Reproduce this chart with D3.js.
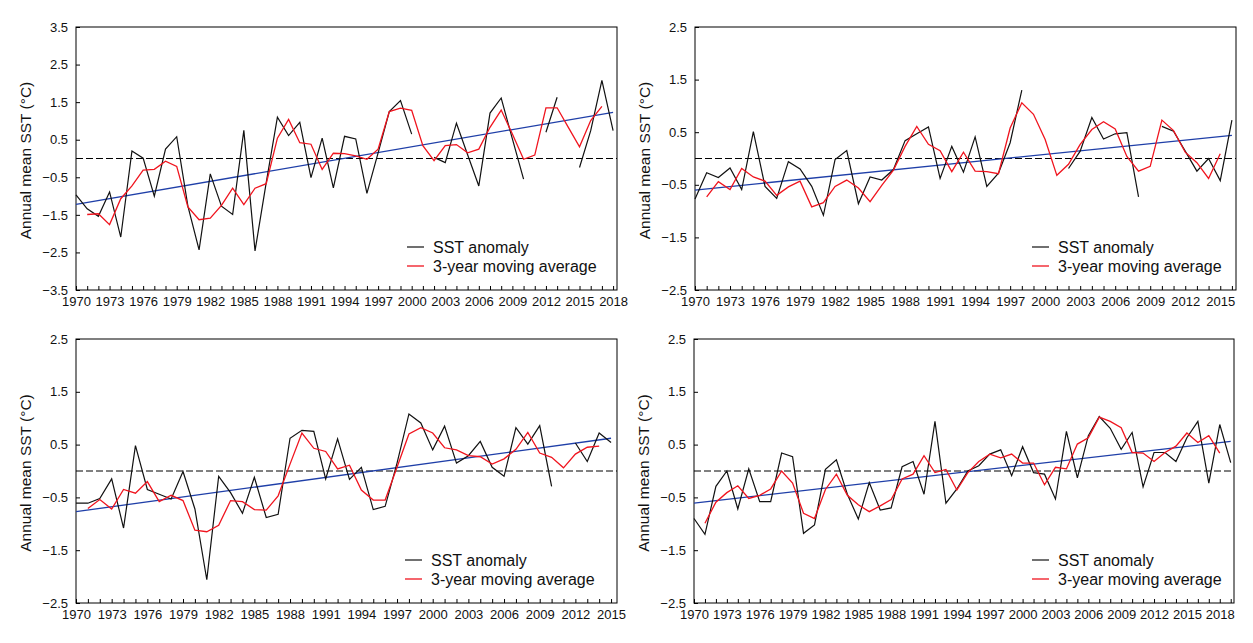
<!DOCTYPE html>
<meta charset="utf-8">
<script src="https://d3js.org/d3.v7.min.js"></script>
<style>
  body { margin: 0; background: #fff; }
  svg text { font-family: "Liberation Sans", Arial, sans-serif; fill: #111; }
</style>
<div id="chart"></div>
<script>

// ---- data, one value per year starting 1970 ----
var sst1 = [-0.97,-1.34,-1.54,-0.89,-2.09,0.20,0.01,-1.00,0.25,0.58,
  -1.27,-2.43,-0.41,-1.27,-1.49,0.75,-2.46,-0.64,1.10,0.61,
  0.96,-0.51,0.54,-0.78,0.59,0.52,-0.93,0.15,1.25,1.54,
  0.65,null,0.03,-0.11,0.94,0.10,-0.73,1.21,1.61,0.52,
  -0.55,null,0.70,1.63,null,-0.24,0.74,2.08,0.74];
var avg1 = [null,-1.49,-1.47,-1.76,-1.07,-0.73,-0.31,-0.29,-0.07,-0.21,
  -1.29,-1.63,-1.59,-1.25,-0.79,-1.23,-0.79,-0.67,0.54,1.04,
  0.42,0.38,-0.29,0.14,0.13,0.07,-0.02,0.25,1.25,1.34,
  1.28,0.34,-0.06,0.34,0.37,0.15,0.25,0.83,1.29,0.65,
  -0.02,0.09,1.35,1.35,0.83,0.31,1.01,1.39,null];

var sst2 = [-0.77,-0.27,-0.36,-0.18,-0.59,0.51,-0.53,-0.76,-0.06,-0.20,
  -0.53,-1.08,-0.02,0.15,-0.86,-0.35,-0.41,-0.21,0.34,0.47,
  0.60,-0.38,0.23,-0.26,0.41,-0.53,-0.28,0.30,1.30,null,
  null,null,-0.19,0.14,0.78,0.37,0.47,0.49,-0.73,null,
  0.61,0.52,0.14,-0.24,0.00,-0.42,0.73];
var avg2 = [null,-0.73,-0.44,-0.59,-0.19,-0.35,-0.43,-0.70,-0.54,-0.43,
  -0.92,-0.84,-0.53,-0.41,-0.56,-0.82,-0.51,-0.22,0.23,0.61,
  0.27,0.15,-0.25,0.12,-0.24,-0.25,-0.29,0.58,1.06,0.84,
  0.36,-0.32,-0.11,0.27,0.55,0.70,0.56,0.04,-0.24,-0.15,
  0.73,0.53,0.12,-0.08,-0.38,0.09,null];

var sst3 = [-0.61,-0.61,-0.52,-0.15,-1.08,0.48,-0.35,-0.44,-0.53,-0.01,
  -0.72,-2.06,-0.10,-0.41,-0.80,-0.12,-0.88,-0.82,0.62,0.77,
  0.75,-0.15,0.61,-0.16,0.07,-0.73,-0.67,0.15,1.08,0.91,
  0.40,0.85,0.15,0.29,0.56,0.07,-0.10,0.82,0.51,0.86,
  -0.29,null,0.53,0.18,0.72,0.54];
var avg3 = [null,-0.71,-0.54,-0.72,-0.35,-0.42,-0.20,-0.58,-0.46,-0.56,
  -1.12,-1.15,-1.03,-0.56,-0.58,-0.73,-0.74,-0.47,0.13,0.72,
  0.43,0.37,0.04,0.11,-0.36,-0.55,-0.55,0.07,0.70,0.82,
  0.72,0.44,0.40,0.29,0.27,0.13,0.23,0.41,0.73,0.34,
  0.26,0.06,0.32,0.45,0.47,null];

var sst4 = [-0.90,-1.20,-0.29,0.00,-0.72,0.04,-0.58,-0.58,0.34,0.27,
  -1.18,-1.02,0.03,0.21,-0.44,-0.91,-0.22,-0.74,-0.70,0.08,
  0.18,-0.44,0.94,-0.61,-0.34,0.00,0.10,0.32,0.40,-0.09,
  0.46,-0.03,-0.06,-0.53,0.75,-0.13,0.67,1.03,0.81,0.41,
  0.73,-0.30,0.35,0.35,0.18,0.63,0.94,-0.23,0.88,0.16];
var avg4 = [null,-0.99,-0.59,-0.41,-0.28,-0.52,-0.46,-0.34,0.00,-0.23,
  -0.80,-0.90,-0.35,-0.06,-0.46,-0.64,-0.77,-0.66,-0.54,-0.15,
  -0.06,0.29,-0.03,0.03,-0.36,-0.03,0.18,0.32,0.25,0.32,
  0.15,0.15,-0.26,0.07,0.04,0.51,0.63,1.02,0.94,0.82,
  0.35,0.34,0.18,0.35,0.47,0.72,0.54,0.67,0.34,null];

// linear trend end points [value at first year, value at last year]
var trend1 = [-1.22, 1.23];
var trend2 = [-0.60, 0.44];
var trend3 = [-0.77, 0.62];
var trend4 = [-0.61, 0.56];

var yTicksWide = [3.5, 2.5, 1.5, 0.5, -0.5, -1.5, -2.5, -3.5];
var yTicks = [2.5, 1.5, 0.5, -0.5, -1.5, -2.5];

var panels = [
  {sst: sst1, avg: avg1, trend: trend1, yMax: 3.5, ticks: yTicksWide, xEnd: 2018.35,
   left: 76, right: 617, top: 27, bottom: 290, legX: 407},
  {sst: sst2, avg: avg2, trend: trend2, yMax: 2.5, ticks: yTicks, xEnd: 2016.35,
   left: 695, right: 1236, top: 27, bottom: 290, legX: 1032},
  {sst: sst3, avg: avg3, trend: trend3, yMax: 2.5, ticks: yTicks, xEnd: 2015.5,
   left: 76, right: 617, top: 339, bottom: 603, legX: 405},
  {sst: sst4, avg: avg4, trend: trend4, yMax: 2.5, ticks: yTicks, xEnd: 2019.3,
   left: 694, right: 1234, top: 339, bottom: 603, legX: 1032}
];

var svg = d3.select("#chart").append("svg")
  .attr("width", 1253)
  .attr("height", 643);

panels.forEach(function(p) {
  var n = p.sst.length;
  var years = d3.range(1970, 1970 + n);
  var x = d3.scaleLinear().domain([1970, p.xEnd]).range([p.left, p.right]);
  var y = d3.scaleLinear().domain([-p.yMax, p.yMax]).range([p.bottom, p.top]);
  var g = svg.append("g");

  // frame
  g.append("rect")
    .attr("x", p.left).attr("y", p.top)
    .attr("width", p.right - p.left).attr("height", p.bottom - p.top)
    .attr("fill", "none").attr("stroke", "#000").attr("stroke-width", 1);

  // x axis: tick every year, label every 3 years, ticks inside
  var xAxis = d3.axisBottom(x)
    .tickValues(years)
    .tickSize(-4)
    .tickFormat(function(d) { return (d - 1970) % 3 === 0 ? d : ""; });
  var gx = g.append("g")
    .attr("transform", "translate(0," + p.bottom + ")")
    .call(xAxis);
  gx.select(".domain").remove();
  gx.selectAll("text")
    .attr("dy", null).attr("y", 16)
    .style("font-size", "13px")
    .style("font-family", "'Liberation Sans', Arial, sans-serif");

  // y axis
  var yAxis = d3.axisLeft(y)
    .tickValues(p.ticks)
    .tickSize(-4)
    .tickFormat(d3.format(".1f"));
  var gy = g.append("g")
    .attr("transform", "translate(" + p.left + ",0)")
    .call(yAxis);
  gy.select(".domain").remove();
  gy.selectAll("text")
    .attr("x", -8)
    .style("font-size", "13px")
    .style("font-family", "'Liberation Sans', Arial, sans-serif");

  // y title
  g.append("text")
    .attr("transform", "translate(" + (p.left - 45) + "," + ((p.top + p.bottom) / 2 + 2) + ") rotate(-90)")
    .attr("text-anchor", "middle")
    .style("font-size", "15.5px")
    .text("Annual mean SST (°C)");

  // zero line
  g.append("line")
    .attr("x1", p.left).attr("x2", p.right)
    .attr("y1", y(0)).attr("y2", y(0))
    .attr("stroke", "#000").attr("stroke-width", 1)
    .attr("stroke-dasharray", "7,3");

  // trend
  g.append("line")
    .attr("x1", x(1970)).attr("x2", x(1970 + n - 1))
    .attr("y1", y(p.trend[0])).attr("y2", y(p.trend[1]))
    .attr("stroke", "#1f3fa8").attr("stroke-width", 1.3);

  var line = d3.line()
    .defined(function(d) { return d != null; })
    .x(function(d, i) { return x(1970 + i); })
    .y(function(d) { return y(d); });

  g.append("path").datum(p.sst)
    .attr("d", line)
    .attr("fill", "none").attr("stroke", "#111").attr("stroke-width", 1.2);

  g.append("path").datum(p.avg)
    .attr("d", line)
    .attr("fill", "none").attr("stroke", "#f0141e").attr("stroke-width", 1.3);

  // legend
  var ly1 = p.bottom - 43, ly2 = p.bottom - 24;
  g.append("line").attr("x1", p.legX).attr("x2", p.legX + 17)
    .attr("y1", ly1).attr("y2", ly1).attr("stroke", "#111").attr("stroke-width", 1.2);
  g.append("line").attr("x1", p.legX).attr("x2", p.legX + 17)
    .attr("y1", ly2).attr("y2", ly2).attr("stroke", "#f0141e").attr("stroke-width", 1.3);
  g.append("text").attr("x", p.legX + 26).attr("y", ly1 + 6)
    .style("font-size", "16px").text("SST anomaly");
  g.append("text").attr("x", p.legX + 26).attr("y", ly2 + 6)
    .style("font-size", "16px").text("3-year moving average");
});

</script>
